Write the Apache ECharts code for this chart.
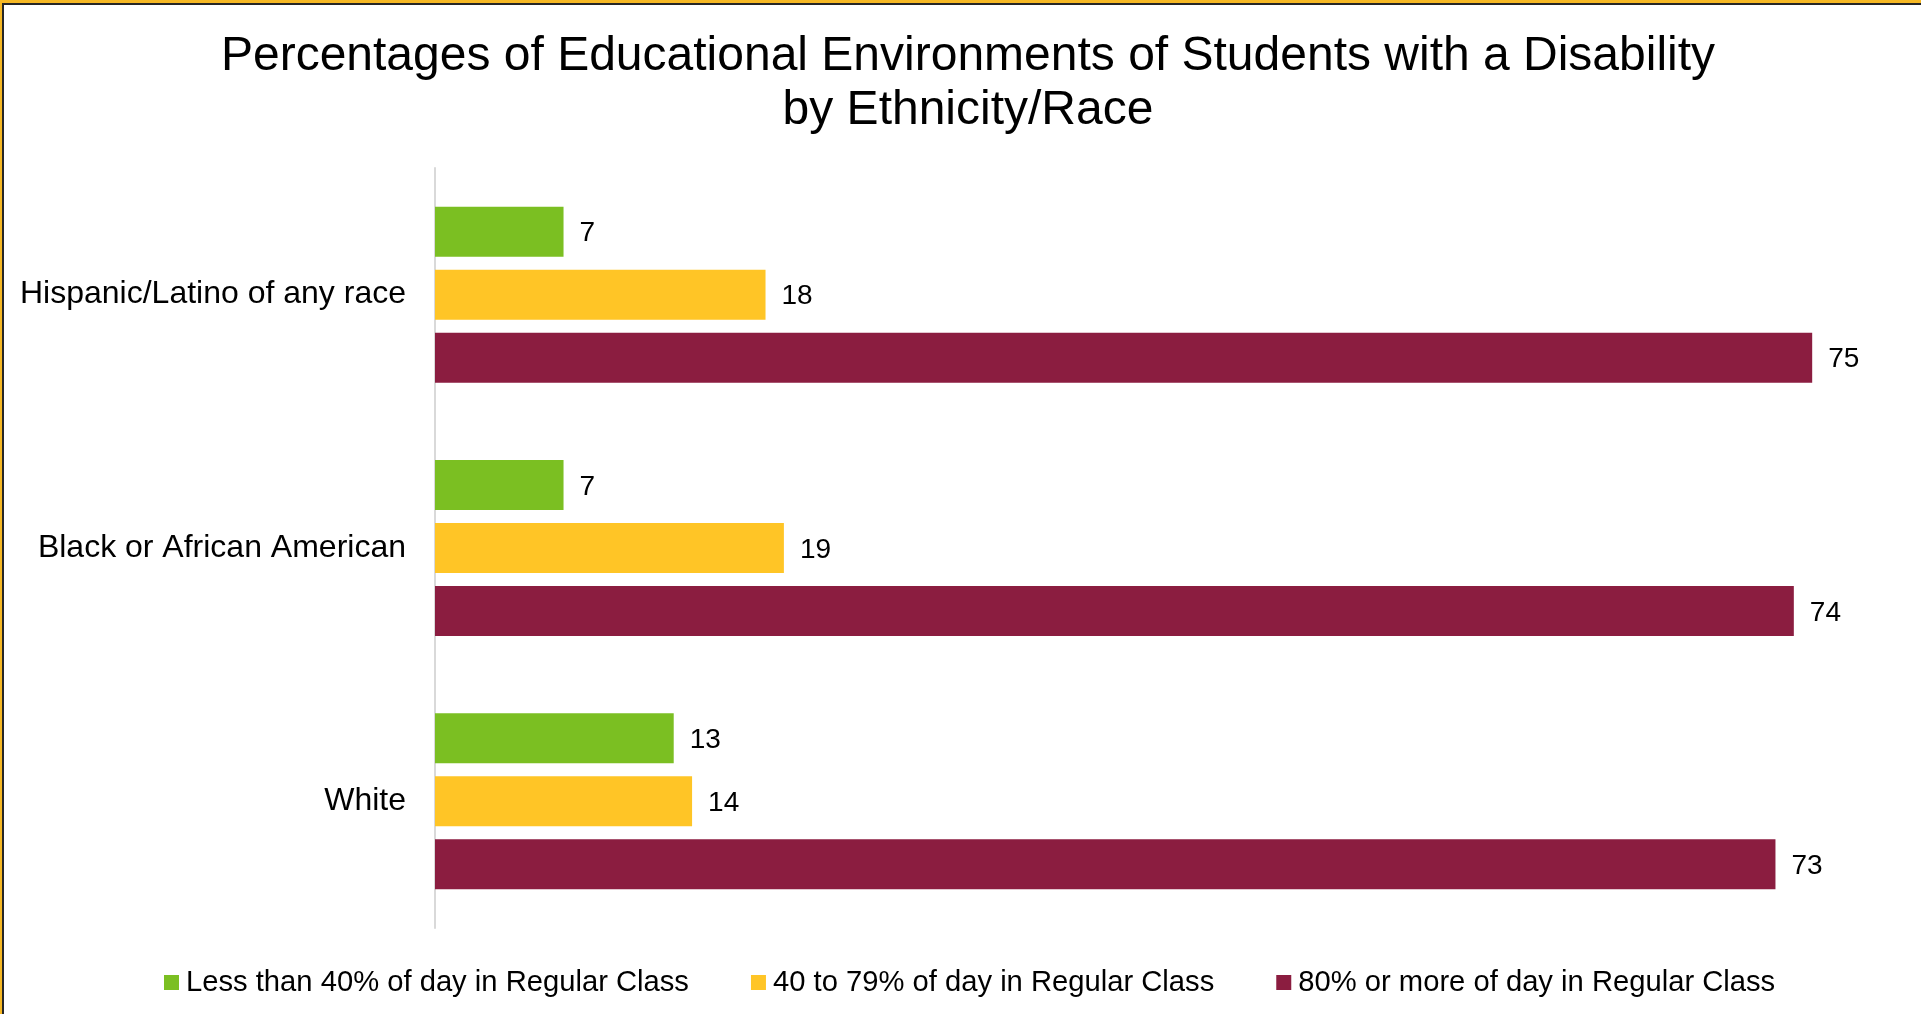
<!DOCTYPE html>
<html>
<head>
<meta charset="utf-8">
<title>Educational Environments by Ethnicity/Race</title>
<script src="https://cdn.jsdelivr.net/npm/echarts@6/dist/echarts.min.js"></script>
<style>
  html, body { margin: 0; padding: 0; background: #ffffff; overflow: hidden; }
  #chart { position: absolute; left: 0; top: 0; width: 1921px; height: 1014px; }
  /* double frame (gold outside, dark inside) along the top and left edges */
  #frame { position: absolute; left: 0; top: 0; width: 4000px; height: 4000px;
           border-top: 3px solid #F6B824; border-left: 2px solid #F6B824;
           pointer-events: none; box-sizing: border-box; }
  #frame > div { width: 100%; height: 100%; box-sizing: border-box;
           border-top: 2px solid #262626; border-left: 2px solid #262626; }
</style>
</head>
<body>
<div id="chart"></div>
<div id="frame"><div></div></div>
<script>
// Ethnicity/race groups, listed top to bottom
const categories = ['Hispanic/Latino of any race', 'Black or African American', 'White'];

// Percent of students in each educational environment
const lessThan40 = [7, 7, 13];
const from40to79 = [18, 19, 14];
const eightyOrMore = [75, 74, 73];

const seriesNames = [
  'Less than 40% of day in Regular Class',
  '40 to 79% of day in Regular Class',
  '80% or more of day in Regular Class'
];
const seriesColors = ['#7BBF22', '#FFC526', '#8B1D40'];

const FONT = "'Liberation Sans', Arial, Helvetica, sans-serif";

const chart = echarts.init(document.getElementById('chart'), null, { renderer: 'canvas' });

function barSeries(name, data, color) {
  return {
    name: name,
    type: 'bar',
    data: data,
    barWidth: 50,
    barGap: '26%',
    itemStyle: { color: color },
    label: {
      show: true,
      position: 'right',
      distance: 16,
      offset: [0, 2],
      color: '#000',
      fontFamily: FONT,
      fontSize: 28
    }
  };
}

chart.setOption({
  animation: false,
  backgroundColor: '#ffffff',
  title: {
    text: 'Percentages of Educational Environments of Students with a Disability\nby Ethnicity/Race',
    left: 963,
    top: 25,
    textAlign: 'center',
    textStyle: {
      fontFamily: FONT,
      fontSize: 48,
      fontWeight: 'normal',
      color: '#000',
      lineHeight: 54
    }
  },
  legend: {
    left: 159,
    top: 963,
    itemWidth: 15,
    itemHeight: 15,
    itemGap: 62,
    icon: 'rect',
    textStyle: { fontFamily: FONT, fontSize: 29.2, color: '#000', padding: [0, 0, 0, 2] },
    data: seriesNames
  },
  grid: {
    left: 435,
    top: 168,
    width: 1469,
    height: 760,
    containLabel: false
  },
  xAxis: {
    type: 'value',
    min: 0,
    max: 80,
    show: false,
    splitLine: { show: false }
  },
  yAxis: {
    type: 'category',
    inverse: true,
    data: categories,
    axisLine: { show: true, lineStyle: { color: '#D9D9D9', width: 2 } },
    axisTick: { show: false },
    axisLabel: {
      margin: 29,
      padding: [10, 0, 0, 0],
      color: '#000',
      fontFamily: FONT,
      fontSize: 32
    }
  },
  series: [
    barSeries(seriesNames[0], lessThan40, seriesColors[0]),
    barSeries(seriesNames[1], from40to79, seriesColors[1]),
    barSeries(seriesNames[2], eightyOrMore, seriesColors[2])
  ]
});
</script>
</body>
</html>
